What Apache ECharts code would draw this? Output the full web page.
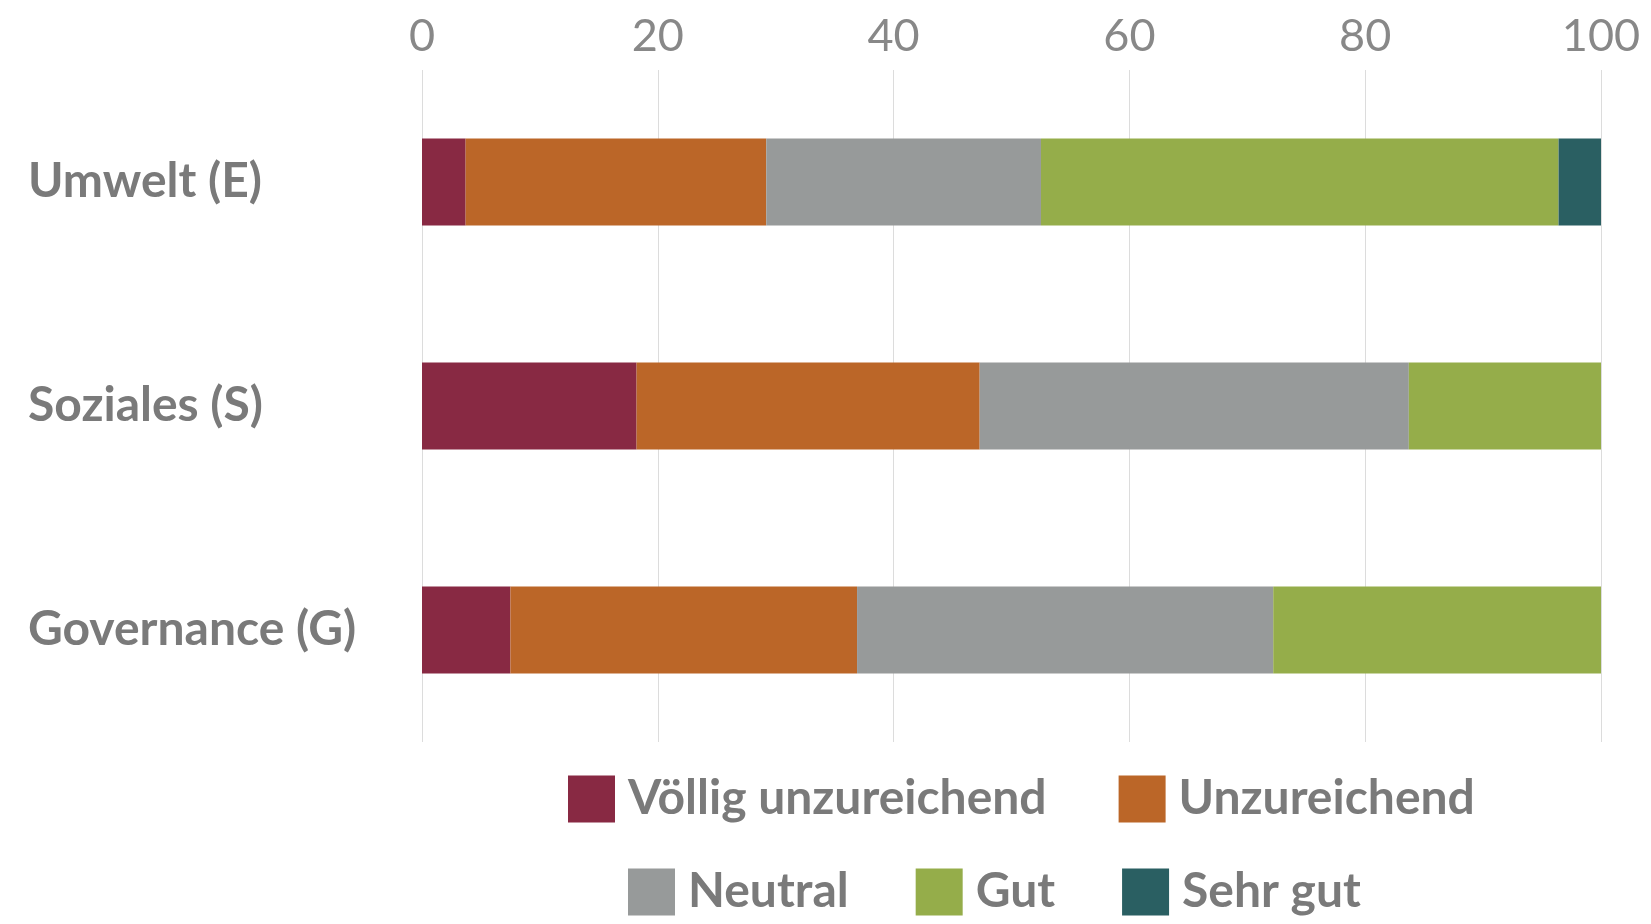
<!DOCTYPE html>
<html>
<head>
<meta charset="utf-8">
<title>ESG Bewertung</title>
<script src="https://cdn.jsdelivr.net/npm/echarts@6/dist/echarts.min.js"></script>
<style>
  html, body { margin: 0; padding: 0; background: #fff; }
  #chart { width: 1651px; height: 924px; }
</style>
</head>
<body>
<div id="chart"></div>
<script>
// categories, top to bottom
const categories = ["Umwelt (E)", "Soziales (S)", "Governance (G)"];
const xTicks = [0, 20, 40, 60, 80, 100];

// shares in percent, one array per rating
const voelligUnzureichend = [3.7, 18.2, 7.5];
const unzureichend = [25.5, 29.1, 29.4];
const neutral = [23.3, 36.4, 35.3];
const gut = [43.9, 16.3, 27.8];
const sehrGut = [3.6, 0, 0];

const seriesNames = ["Völlig unzureichend", "Unzureichend", "Neutral", "Gut", "Sehr gut"];
const seriesData = [voelligUnzureichend, unzureichend, neutral, gut, sehrGut];
const colors = ["#882943", "#bb6628", "#979a9a", "#95ad4a", "#2a5f62"];

const font = "Lato, 'Open Sans', sans-serif";
const textColor = "#7a7a7a";

const chart = echarts.init(document.getElementById("chart"));

const legendText = {
  color: textColor,
  fontFamily: font,
  fontSize: 48,
  fontWeight: "bold",
  padding: [0, 0, 0, 8],
};

const option = {
  animation: false,
  color: colors,
  grid: { left: 422, right: 50, top: 70, bottom: 182 },
  legend: [
    {
      data: seriesNames.slice(0, 2),
      left: 563,
      top: 770,
      itemWidth: 47,
      itemHeight: 47,
      itemGap: 72,
      icon: "rect",
      textStyle: legendText,
    },
    {
      data: seriesNames.slice(2),
      left: 623,
      top: 863,
      itemWidth: 47,
      itemHeight: 47,
      itemGap: 67,
      icon: "rect",
      textStyle: legendText,
    },
  ],
  xAxis: {
    type: "value",
    position: "top",
    min: xTicks[0],
    max: xTicks[xTicks.length - 1],
    interval: 20,
    axisLine: { show: false },
    axisTick: { show: false },
    axisLabel: { color: "#888", fontFamily: font, fontSize: 45, margin: 11 },
    splitLine: { lineStyle: { color: "#dcdcdc", width: 1 } },
  },
  yAxis: {
    type: "category",
    data: categories,
    inverse: true,
    axisLine: { show: false },
    axisTick: { show: false },
    axisLabel: {
      color: textColor,
      fontFamily: font,
      fontSize: 48,
      fontWeight: "bold",
      align: "left",
      margin: 394,
      padding: [0, 0, 8, 0],
    },
  },
  series: seriesNames.map((name, i) => ({
    name: name,
    type: "bar",
    stack: "total",
    barWidth: 87,
    data: seriesData[i],
  })),
};

chart.setOption(option);
</script>
</body>
</html>
